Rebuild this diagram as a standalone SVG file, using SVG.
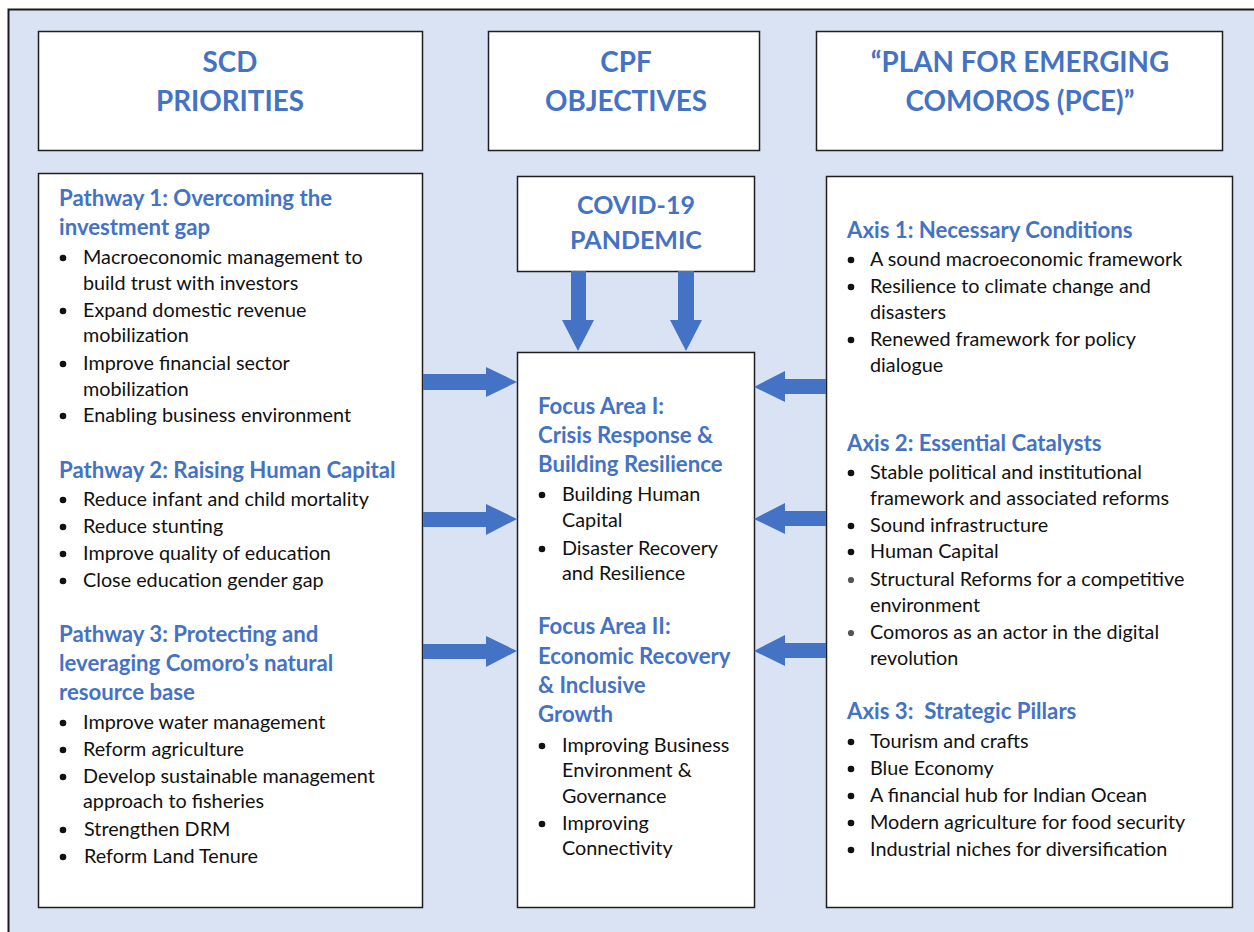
<svg xmlns="http://www.w3.org/2000/svg" width="1254" height="932" viewBox="0 0 1254 932">
  <style>
    .box { fill: #ffffff; stroke: #1f1f1f; stroke-width: 1.5; }
    .hdr { font-family: Lato, "Liberation Sans", sans-serif; font-weight: 700; font-size: 27.8px; fill: #4472C4; text-anchor: middle; }
    .ttl { font-family: Lato, "Liberation Sans", sans-serif; font-weight: 700; font-size: 22.2px; fill: #4472C4; }
    .txt { font-family: Lato, "Liberation Sans", sans-serif; font-size: 19.8px; fill: #111111; }
    .dot { fill: #111111; }
    .dot2 { fill: #555555; }
    .arw { fill: #4472C4; }
  </style>

  <!-- background panel -->
  <rect x="8.5" y="9.5" width="1270" height="950" fill="#DAE3F3" stroke="#1a1a1a" stroke-width="2"/>

  <!-- column headers -->
  <g id="hdr-scd">
    <rect class="box" x="38.5" y="31.5" width="384" height="119"/>
    <text class="hdr" x="230" y="72">SCD</text>
    <text class="hdr" x="230" y="111">PRIORITIES</text>
  </g>
  <g id="hdr-cpf">
    <rect class="box" x="488.5" y="31.5" width="271" height="119"/>
    <text class="hdr" x="626" y="72">CPF</text>
    <text class="hdr" x="626" y="111">OBJECTIVES</text>
  </g>
  <g id="hdr-pce">
    <rect class="box" x="816.5" y="31.5" width="406" height="119"/>
    <text class="hdr" x="1020" y="72">“PLAN FOR EMERGING</text>
    <text class="hdr" x="1020" y="111">COMOROS (PCE)”</text>
  </g>

  <!-- SCD pathways -->
  <g id="scd-pathways">
    <rect class="box" x="38.5" y="173.5" width="384" height="734"/>
    <text class="ttl" x="59" y="206">Pathway 1: Overcoming the</text>
    <text class="ttl" x="59" y="235">investment gap</text>
    <circle class="dot" cx="63" cy="258" r="3.3"/>
    <text class="txt" x="83" y="264">Macroeconomic management to</text>
    <text class="txt" x="83" y="290">build trust with investors</text>
    <circle class="dot" cx="63" cy="311" r="3.3"/>
    <text class="txt" x="83" y="317">Expand domestic revenue</text>
    <text class="txt" x="83" y="342">mobilization</text>
    <circle class="dot" cx="63" cy="364" r="3.3"/>
    <text class="txt" x="83" y="370">Improve financial sector</text>
    <text class="txt" x="83" y="396">mobilization</text>
    <circle class="dot" cx="63" cy="416" r="3.3"/>
    <text class="txt" x="83" y="422">Enabling business environment</text>

    <text class="ttl" x="59" y="478">Pathway 2: Raising Human Capital</text>
    <circle class="dot" cx="63" cy="500" r="3.3"/>
    <text class="txt" x="83" y="506">Reduce infant and child mortality</text>
    <circle class="dot" cx="63" cy="527" r="3.3"/>
    <text class="txt" x="83" y="533">Reduce stunting</text>
    <circle class="dot" cx="63" cy="554" r="3.3"/>
    <text class="txt" x="83" y="560">Improve quality of education</text>
    <circle class="dot" cx="63" cy="581" r="3.3"/>
    <text class="txt" x="83" y="587">Close education gender gap</text>

    <text class="ttl" x="59" y="642">Pathway 3: Protecting and</text>
    <text class="ttl" x="59" y="671">leveraging Comoro’s natural</text>
    <text class="ttl" x="59" y="700">resource base</text>
    <circle class="dot" cx="63" cy="723" r="3.3"/>
    <text class="txt" x="83" y="729">Improve water management</text>
    <circle class="dot" cx="63" cy="750" r="3.3"/>
    <text class="txt" x="83" y="756">Reform agriculture</text>
    <circle class="dot" cx="63" cy="777" r="3.3"/>
    <text class="txt" x="83" y="783">Develop sustainable management</text>
    <text class="txt" x="83" y="808">approach to fisheries</text>
    <circle class="dot" cx="63" cy="830" r="3.3"/>
    <text class="txt" x="84" y="836">Strengthen DRM</text>
    <circle class="dot" cx="63" cy="857" r="3.3"/>
    <text class="txt" x="84" y="863">Reform Land Tenure</text>
  </g>

  <!-- COVID-19 box -->
  <g id="covid">
    <rect class="box" x="517.5" y="176.5" width="237" height="95"/>
    <text class="hdr" x="636" y="214" style="font-size:25px">COVID-19</text>
    <text class="hdr" x="636" y="249" style="font-size:25px">PANDEMIC</text>
  </g>

  <!-- CPF focus areas -->
  <g id="cpf-focus">
    <rect class="box" x="517.5" y="352.5" width="237" height="555"/>
    <text class="ttl" x="538" y="414">Focus Area I:</text>
    <text class="ttl" x="538" y="443">Crisis Response &amp;</text>
    <text class="ttl" x="538" y="472">Building Resilience</text>
    <circle class="dot" cx="542" cy="495" r="3.3"/>
    <text class="txt" x="562" y="501">Building Human</text>
    <text class="txt" x="562" y="527">Capital</text>
    <circle class="dot" cx="542" cy="549" r="3.3"/>
    <text class="txt" x="562" y="555">Disaster Recovery</text>
    <text class="txt" x="562" y="580">and Resilience</text>

    <text class="ttl" x="538" y="634">Focus Area II:</text>
    <text class="ttl" x="538" y="664">Economic Recovery</text>
    <text class="ttl" x="538" y="693">&amp; Inclusive</text>
    <text class="ttl" x="538" y="722">Growth</text>
    <circle class="dot" cx="542" cy="746" r="3.3"/>
    <text class="txt" x="562" y="752">Improving Business</text>
    <text class="txt" x="562" y="777">Environment &amp;</text>
    <text class="txt" x="562" y="803">Governance</text>
    <circle class="dot" cx="542" cy="824" r="3.3"/>
    <text class="txt" x="562" y="830">Improving</text>
    <text class="txt" x="562" y="855">Connectivity</text>
  </g>

  <!-- PCE axes -->
  <g id="pce-axes">
    <rect class="box" x="826.5" y="176.5" width="406" height="731"/>
    <text class="ttl" x="847" y="238">Axis 1: Necessary Conditions</text>
    <circle class="dot" cx="851" cy="260" r="3.3"/>
    <text class="txt" x="870" y="266">A sound macroeconomic framework</text>
    <circle class="dot" cx="851" cy="287" r="3.3"/>
    <text class="txt" x="870" y="293">Resilience to climate change and</text>
    <text class="txt" x="870" y="319">disasters</text>
    <circle class="dot" cx="851" cy="340" r="3.3"/>
    <text class="txt" x="870" y="346">Renewed framework for policy</text>
    <text class="txt" x="870" y="372">dialogue</text>

    <text class="ttl" x="847" y="451">Axis 2: Essential Catalysts</text>
    <circle class="dot" cx="851" cy="473" r="3.3"/>
    <text class="txt" x="870" y="479">Stable political and institutional</text>
    <text class="txt" x="870" y="505">framework and associated reforms</text>
    <circle class="dot" cx="851" cy="526" r="3.3"/>
    <text class="txt" x="870" y="532">Sound infrastructure</text>
    <circle class="dot" cx="851" cy="552" r="3.3"/>
    <text class="txt" x="870" y="558">Human Capital</text>
    <circle class="dot2" cx="851" cy="580" r="3.1"/>
    <text class="txt" x="870" y="586">Structural Reforms for a competitive</text>
    <text class="txt" x="870" y="612">environment</text>
    <circle class="dot2" cx="851" cy="633" r="3.1"/>
    <text class="txt" x="870" y="639">Comoros as an actor in the digital</text>
    <text class="txt" x="870" y="665">revolution</text>

    <text class="ttl" x="847" y="719" xml:space="preserve">Axis 3:  Strategic Pillars</text>
    <circle class="dot" cx="851" cy="742" r="3.3"/>
    <text class="txt" x="870" y="748">Tourism and crafts</text>
    <circle class="dot" cx="851" cy="769" r="3.3"/>
    <text class="txt" x="870" y="775">Blue Economy</text>
    <circle class="dot" cx="851" cy="796" r="3.3"/>
    <text class="txt" x="870" y="802">A financial hub for Indian Ocean</text>
    <circle class="dot" cx="851" cy="823" r="3.3"/>
    <text class="txt" x="870" y="829">Modern agriculture for food security</text>
    <circle class="dot" cx="851" cy="850" r="3.3"/>
    <text class="txt" x="870" y="856">Industrial niches for diversification</text>
  </g>

  <!-- block arrows -->
  <g id="connectors">
    <!-- COVID-19 into focus areas -->
    <polygon class="arw" points="571,271 586,271 586,320 594,320 578,351 562,320 571,320"/>
    <polygon class="arw" points="678,271 694,271 694,320 702,320 686,351 670,320 678,320"/>
    <!-- SCD pathways into focus areas -->
    <polygon class="arw" points="423,374 486,374 486,367 517,382 486,397 486,390 423,390"/>
    <polygon class="arw" points="423,512 486,512 486,504 517,519 486,535 486,527 423,527"/>
    <polygon class="arw" points="423,644 486,644 486,636 517,651 486,667 486,659 423,659"/>
    <!-- PCE axes into focus areas -->
    <polygon class="arw" points="826,379 785,379 785,371 754,387 785,402 785,394 826,394"/>
    <polygon class="arw" points="826,511 785,511 785,503 754,519 785,534 785,526 826,526"/>
    <polygon class="arw" points="826,643 785,643 785,635 754,651 785,666 785,658 826,658"/>
  </g>
</svg>
